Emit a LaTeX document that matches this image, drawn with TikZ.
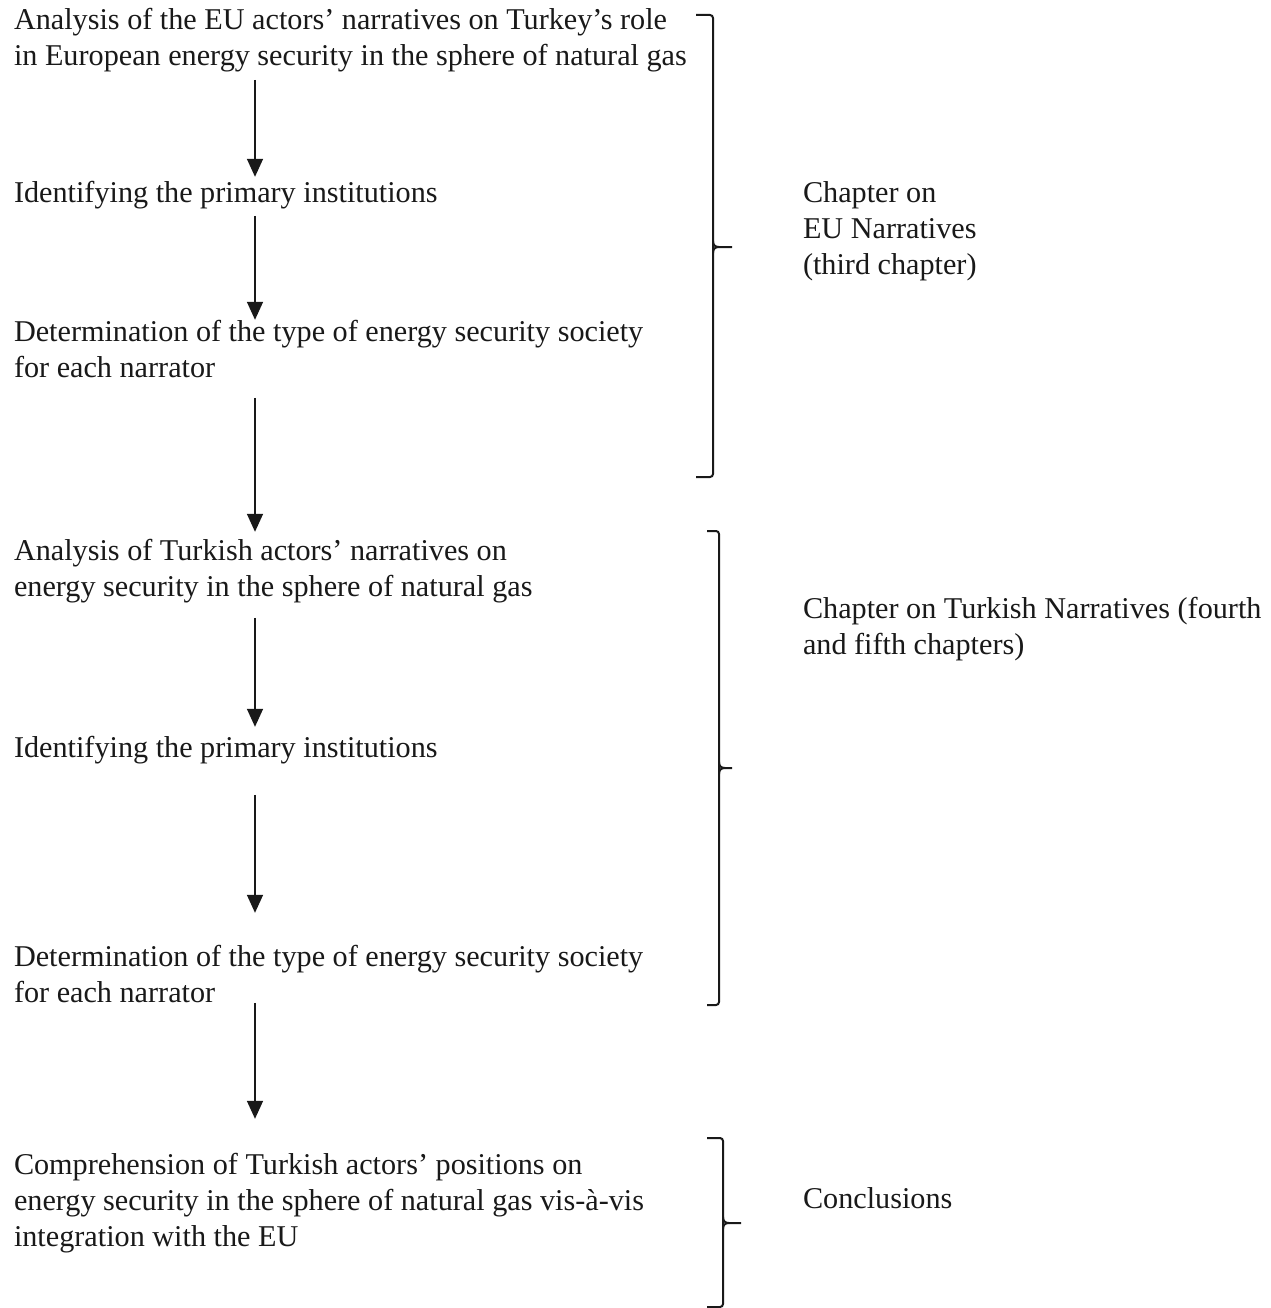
\documentclass[tikz,border=0pt]{standalone}
\usepackage{fontspec}
\setmainfont{Liberation Serif}
\usetikzlibrary{arrows.meta}
\newcommand\steprow{\strut}
\begin{document}
\begin{tikzpicture}[x=1pt,y=-1pt,
  every node/.style={inner sep=0pt, outer sep=0pt},
  stepbox/.style={anchor=base west, align=left, font=\fontsize{30.2}{36}\selectfont, text=black!90},
  chapter/.style={anchor=base west, align=left, font=\fontsize{30.2}{36}\selectfont, text=black!90},
  flow/.style={draw=black!90, line width=1.6pt, -{Triangle[width=16pt,length=18pt]}},
  bracket/.style={draw=black!90, line width=2pt, rounded corners=3pt},
  cusp/.style={draw=black!90, line width=2pt}]
\useasboundingbox (0,0) rectangle (1270,1308);
\clip (0,0) rectangle (1270,1308);
\fill[white] (0,0) rectangle (1270,1308);

\coordinate (ax) at (255,0);

% steps of the analysis (anchored at the baseline of the last line)
\node[stepbox] (s1) at (14,66) {\steprow Analysis of the EU actors’ narratives on Turkey’s role\\\steprow in European energy security in the sphere of natural gas};
\node[stepbox] (s2) at (14,202) {\steprow Identifying the primary institutions};
\node[stepbox] (s3) at (14,377) {\steprow Determination of the type of energy security society\\\steprow for each narrator};
\node[stepbox] (s4) at (14,596) {\steprow Analysis of Turkish actors’ narratives on\\\steprow energy security in the sphere of natural gas};
\node[stepbox] (s5) at (14,757) {\steprow Identifying the primary institutions};
\node[stepbox] (s6) at (14,1002) {\steprow Determination of the type of energy security society\\\steprow for each narrator};
\node[stepbox] (s7) at (14,1246) {\steprow Comprehension of Turkish actors’ positions on\\\steprow energy security in the sphere of natural gas vis-à-vis\\\steprow integration with the EU};

% chapter labels
\node[chapter] (c1) at (803,274) {Chapter on\\EU Narratives\\(third chapter)};
\node[chapter] (c2) at (803,654) {Chapter on Turkish Narratives (fourth\\and fifth chapters)};
\node[chapter] (c3) at (803,1208) {Conclusions};

% arrows between the steps
\draw[flow, shorten <=3pt, shorten >=0pt] (s1.south -| ax) -- (s2.north -| ax);
\draw[flow, shorten <=3pt, shorten >=-4pt] (s2.south -| ax) -- (s3.north -| ax);
\draw[flow, shorten <=10pt, shorten >=3pt] (s3.south -| ax) -- (s4.north -| ax);
\draw[flow, shorten <=11pt, shorten >=5pt] (s4.south -| ax) -- (s5.north -| ax);
\draw[flow, shorten <=27pt, shorten >=28pt] (s5.south -| ax) -- (s6.north -| ax);
\draw[flow, shorten <=-10pt, shorten >=30pt] (s6.south -| ax) -- (s7.north -| ax);

% brackets grouping the steps by chapter, each with a small point in the middle
\draw[bracket] (696,15) -- (713,15) -- (713,477) -- (696,477);
\draw[cusp] (713,241) .. controls (713,245) and (715,247) .. (719,247) -- (732,247);
\draw[cusp] (713,253) .. controls (713,249) and (715,247) .. (719,247);
\draw[bracket] (707,531) -- (719,531) -- (719,1005) -- (707,1005);
\draw[cusp] (719,762) .. controls (719,766) and (721,768) .. (725,768) -- (732,768);
\draw[cusp] (719,774) .. controls (719,770) and (721,768) .. (725,768);
\draw[bracket] (707,1138) -- (723,1138) -- (723,1307) -- (707,1307);
\draw[cusp] (723,1217) .. controls (723,1221) and (725,1223) .. (729,1223) -- (741,1223);
\draw[cusp] (723,1229) .. controls (723,1225) and (725,1223) .. (729,1223);
\end{tikzpicture}
\end{document}
